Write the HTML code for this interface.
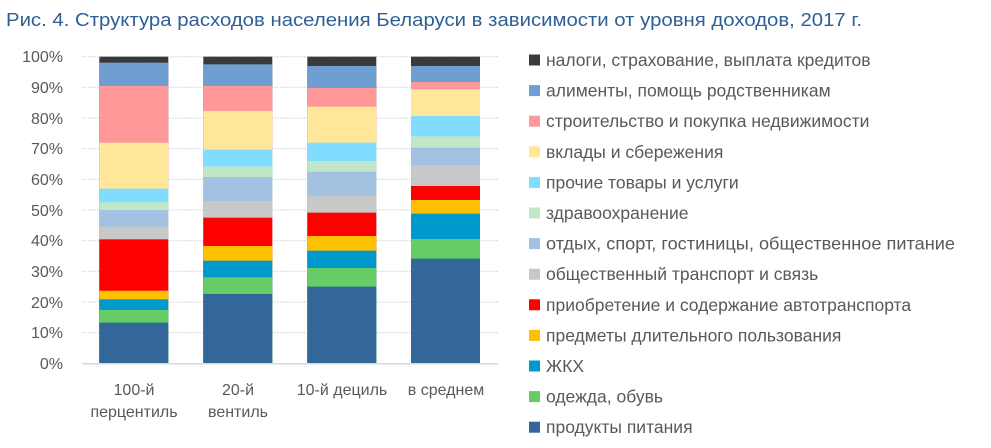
<!DOCTYPE html>
<html><head><meta charset="utf-8"><style>
html,body{margin:0;padding:0;background:#fff;}
svg{display:block;font-family:"Liberation Sans",sans-serif;}
</style></head><body>
<svg width="991" height="448" viewBox="0 0 991 448" xmlns="http://www.w3.org/2000/svg">
<text x="6" y="26" font-size="18" fill="#2e5f95" textLength="856" lengthAdjust="spacingAndGlyphs">Рис. 4. Структура расходов населения Беларуси в зависимости от уровня доходов, 2017 г.</text>
<g stroke="#d9d9d9" stroke-width="1" stroke-dasharray="2,1">
<line x1="82" x2="498" y1="56.7" y2="56.7"/><line x1="82" x2="498" y1="87.3" y2="87.3"/><line x1="82" x2="498" y1="118" y2="118"/><line x1="82" x2="498" y1="148.7" y2="148.7"/><line x1="82" x2="498" y1="179.3" y2="179.3"/><line x1="82" x2="498" y1="210" y2="210"/><line x1="82" x2="498" y1="240.7" y2="240.7"/><line x1="82" x2="498" y1="271.3" y2="271.3"/><line x1="82" x2="498" y1="302" y2="302"/><line x1="82" x2="498" y1="332.7" y2="332.7"/>
</g>
<g font-size="16" fill="#595959" text-anchor="end">
<text x="63" y="62">100%</text><text x="63" y="93">90%</text><text x="63" y="124">80%</text><text x="63" y="154">70%</text><text x="63" y="185">60%</text><text x="63" y="216">50%</text><text x="63" y="246">40%</text><text x="63" y="277">30%</text><text x="63" y="308">20%</text><text x="63" y="338">10%</text><text x="63" y="369">0%</text>
</g>
<g transform="translate(99.3,0)">
<rect y="56.67" width="69" height="307" fill="#3a3a3a"/>
<rect y="62.67" width="69" height="301" fill="#6f9fd0"/>
<rect y="86" width="69" height="277.7" fill="#ff9999"/>
<rect y="142.67" width="69" height="221" fill="#ffe699"/>
<rect y="188.67" width="69" height="175" fill="#80ddff"/>
<rect y="202.33" width="69" height="161.4" fill="#c0e8c8"/>
<rect y="210" width="69" height="153.7" fill="#a3c1e0"/>
<rect y="226.67" width="69" height="137" fill="#c8c8c8"/>
<rect y="239.33" width="69" height="124.4" fill="#ff0000"/>
<rect y="290.67" width="69" height="73" fill="#ffc000"/>
<rect y="299.33" width="69" height="64.4" fill="#0099cc"/>
<rect y="310" width="69" height="53.7" fill="#66cc66"/>
<rect y="322.67" width="69" height="41" fill="#336699"/>
</g>
<g transform="translate(203.3,0)">
<rect y="56.67" width="69" height="307" fill="#3a3a3a"/>
<rect y="64.33" width="69" height="299.4" fill="#6f9fd0"/>
<rect y="86" width="69" height="277.7" fill="#ff9999"/>
<rect y="111" width="69" height="252.7" fill="#ffe699"/>
<rect y="149.67" width="69" height="214" fill="#80ddff"/>
<rect y="166.33" width="69" height="197.4" fill="#c0e8c8"/>
<rect y="177" width="69" height="186.7" fill="#a3c1e0"/>
<rect y="201" width="69" height="162.7" fill="#c8c8c8"/>
<rect y="217.67" width="69" height="146" fill="#ff0000"/>
<rect y="246" width="69" height="117.7" fill="#ffc000"/>
<rect y="260.67" width="69" height="103" fill="#0099cc"/>
<rect y="277.33" width="69" height="86.4" fill="#66cc66"/>
<rect y="294" width="69" height="69.7" fill="#336699"/>
</g>
<g transform="translate(307.3,0)">
<rect y="56.67" width="69" height="307" fill="#3a3a3a"/>
<rect y="66" width="69" height="297.7" fill="#6f9fd0"/>
<rect y="88" width="69" height="275.7" fill="#ff9999"/>
<rect y="106.67" width="69" height="257" fill="#ffe699"/>
<rect y="142.67" width="69" height="221" fill="#80ddff"/>
<rect y="161" width="69" height="202.7" fill="#c0e8c8"/>
<rect y="171.67" width="69" height="192" fill="#a3c1e0"/>
<rect y="195.67" width="69" height="168" fill="#c8c8c8"/>
<rect y="212.67" width="69" height="151" fill="#ff0000"/>
<rect y="236" width="69" height="127.7" fill="#ffc000"/>
<rect y="250.67" width="69" height="113" fill="#0099cc"/>
<rect y="268" width="69" height="95.7" fill="#66cc66"/>
<rect y="286.67" width="69" height="77" fill="#336699"/>
</g>
<g transform="translate(411,0)">
<rect y="56.67" width="69" height="307" fill="#3a3a3a"/>
<rect y="66" width="69" height="297.7" fill="#6f9fd0"/>
<rect y="82" width="69" height="281.7" fill="#ff9999"/>
<rect y="89.33" width="69" height="274.4" fill="#ffe699"/>
<rect y="116" width="69" height="247.7" fill="#80ddff"/>
<rect y="136.33" width="69" height="227.4" fill="#c0e8c8"/>
<rect y="147.67" width="69" height="216" fill="#a3c1e0"/>
<rect y="165" width="69" height="198.7" fill="#c8c8c8"/>
<rect y="186" width="69" height="177.7" fill="#ff0000"/>
<rect y="200" width="69" height="163.7" fill="#ffc000"/>
<rect y="213.67" width="69" height="150" fill="#0099cc"/>
<rect y="239" width="69" height="124.7" fill="#66cc66"/>
<rect y="258.67" width="69" height="105" fill="#336699"/>
</g>
<line x1="82" x2="498" y1="363.7" y2="363.7" stroke="#d9d9d9" stroke-width="1.5"/>
<g font-size="16" fill="#595959" text-anchor="middle">
<text x="134" y="395">100-й</text><text x="134" y="417">перцентиль</text>
<text x="238" y="395">20-й</text><text x="238" y="417">вентиль</text>
<text x="342" y="395">10-й дециль</text>
<text x="446" y="395">в среднем</text>
</g>
<g font-size="17.5" fill="#595959">
<rect x="529" y="54.5" width="11" height="11" fill="#3a3a3a"/><text x="546" y="66">налоги, страхование, выплата кредитов</text>
<rect x="529" y="85.1" width="11" height="11" fill="#6f9fd0"/><text x="546" y="96.6">алименты, помощь родственникам</text>
<rect x="529" y="115.7" width="11" height="11" fill="#ff9999"/><text x="546" y="127.2">строительство и покупка недвижимости</text>
<rect x="529" y="146.3" width="11" height="11" fill="#ffe699"/><text x="546" y="157.8">вклады и сбережения</text>
<rect x="529" y="176.9" width="11" height="11" fill="#80ddff"/><text x="546" y="188.4">прочие товары и услуги</text>
<rect x="529" y="207.5" width="11" height="11" fill="#c0e8c8"/><text x="546" y="219">здравоохранение</text>
<rect x="529" y="238.1" width="11" height="11" fill="#a3c1e0"/><text x="546" y="249.6" textLength="409" lengthAdjust="spacingAndGlyphs">отдых, спорт, гостиницы, общественное питание</text>
<rect x="529" y="268.7" width="11" height="11" fill="#c8c8c8"/><text x="546" y="280.2">общественный транспорт и связь</text>
<rect x="529" y="299.3" width="11" height="11" fill="#ff0000"/><text x="546" y="310.8">приобретение и содержание автотранспорта</text>
<rect x="529" y="329.9" width="11" height="11" fill="#ffc000"/><text x="546" y="341.4">предметы длительного пользования</text>
<rect x="529" y="360.5" width="11" height="11" fill="#0099cc"/><text x="546" y="372">ЖКХ</text>
<rect x="529" y="391.1" width="11" height="11" fill="#66cc66"/><text x="546" y="402.6">одежда, обувь</text>
<rect x="529" y="421.7" width="11" height="11" fill="#336699"/><text x="546" y="433.2">продукты питания</text>
</g>
</svg>
</body></html>
